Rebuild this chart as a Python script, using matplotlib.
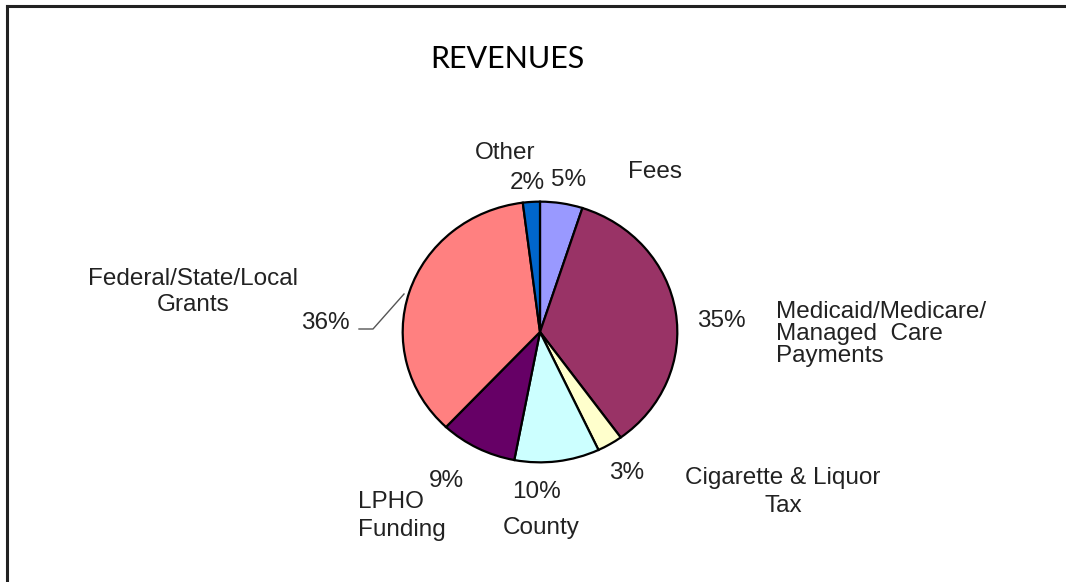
import matplotlib.pyplot as plt

# Datos
categorias = ['Fees', 'Medicaid/Medicare/\nManaged  Care\nPayments', 'Cigarette & Liquor\nTax',
              'County', 'LPHO\nFunding', 'Federal/State/Local\nGrants', 'Other']
porcentajes = [5, 35, 3, 10, 9, 36, 2]
colores = ['#9999FF', '#993366', '#FFFFCC', '#CCFFFF', '#660066', '#FF8080', '#0066CC']

W, H = 1066, 582
fig = plt.figure(figsize=(W / 100, H / 100), dpi=100)
fig.patch.set_facecolor('white')

def px(x, y):
    return x / W, 1 - y / H

# Marco (solo arriba e izquierda)
fig.add_artist(plt.Line2D([7 / W, 1], [1 - 6 / H, 1 - 6 / H], color='#222222', lw=2.2))
fig.add_artist(plt.Line2D([7 / W, 7 / W], [0, 1 - 6 / H], color='#222222', lw=2.2))

# Pastel (ligeramente eliptico)
left, right, top, bottom = 402, 678, 201, 463
ax = fig.add_axes([left / W, 1 - bottom / H, (right - left) / W, (bottom - top) / H])
ax.pie(porcentajes, colors=colores, startangle=90, counterclock=False,
       wedgeprops=dict(edgecolor='black', linewidth=1.6))
ax.set_aspect('auto')
ax.set_xlim(-1.005, 1.005)
ax.set_ylim(-1.005, 1.005)
ax.axis('off')

# Titulo
fig.text(*px(507, 59), 'REVENUES', fontsize=22, family='Lato', ha='center', va='center')

# Etiquetas
fuente = dict(family='Liberation Sans', fontsize=17.5, color='#222222')
fig.text(*px(505, 153), 'Other', ha='center', va='center', **fuente)
fig.text(*px(527, 183), '2%', ha='center', va='center', **fuente)
fig.text(*px(569, 180), '5%', ha='center', va='center', **fuente)
fig.text(*px(628, 172), categorias[0], ha='left', va='center', **fuente)
fig.text(*px(721, 321), '35%', ha='center', va='center', **fuente)
fig.text(*px(776, 334), categorias[1], ha='left', va='center', linespacing=1.02, **fuente)
fig.text(*px(627, 473), '3%', ha='center', va='center', **fuente)
fig.text(*px(783, 492), categorias[2], ha='center', va='center', linespacing=1.38, **fuente)
fig.text(*px(537, 492), '10%', ha='center', va='center', **fuente)
fig.text(*px(541, 528), categorias[3], ha='center', va='center', **fuente)
fig.text(*px(446, 481), '9%', ha='center', va='center', **fuente)
fig.text(*px(358, 516), categorias[4], ha='left', va='center', linespacing=1.35, **fuente)
fig.text(*px(193, 292), categorias[5], ha='center', va='center', linespacing=1.28, **fuente)
fig.text(*px(325, 323), '36%', ha='center', va='center', **fuente)

# Linea guia
fig.add_artist(plt.Line2D([359 / W, 373 / W, 404 / W],
                          [1 - 329 / H, 1 - 329 / H, 1 - 294 / H], color='#555555', lw=1))

fig.savefig('out.png', dpi=100)
